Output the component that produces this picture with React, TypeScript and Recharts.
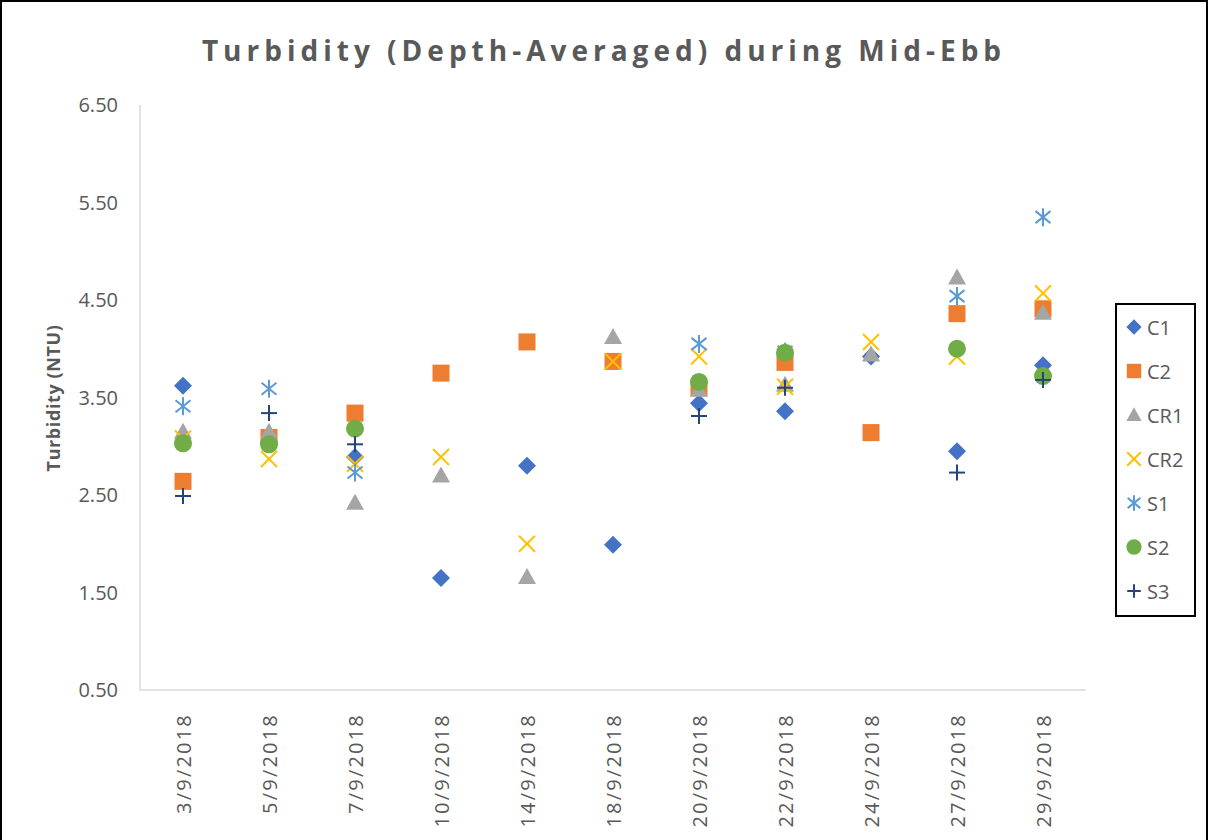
import { ComposedChart, Line, XAxis, YAxis } from "recharts";

const dates = [
  "3/9/2018",
  "5/9/2018",
  "7/9/2018",
  "10/9/2018",
  "14/9/2018",
  "18/9/2018",
  "20/9/2018",
  "22/9/2018",
  "24/9/2018",
  "27/9/2018",
  "29/9/2018",
];

const c1 = [3.62, 3.05, 2.89, 1.65, 2.8, 1.99, 3.44, 3.36, 3.92, 2.95, 3.83];
const c2 = [2.64, 3.09, 3.34, 3.75, 4.07, 3.87, 3.6, 3.86, 3.14, 4.36, 4.41];
const cr1 = [3.15, 3.15, 2.42, 2.7, 1.66, 4.12, 3.58, 3.63, 3.94, 4.73, 4.37];
const cr2 = [3.08, 2.87, 2.82, 2.89, 2.0, 3.87, 3.92, 3.61, 4.07, 3.92, 4.57];
const s1 = [3.41, 3.59, 2.73, null, null, null, 4.05, 3.97, null, 4.54, 5.35];
const s2 = [3.03, 3.02, 3.18, null, null, null, 3.66, 3.96, null, 4.0, 3.72];
const s3 = [2.49, 3.34, 3.02, null, null, null, 3.31, 3.6, null, 2.73, 3.68];

const yTicks = [0.5, 1.5, 2.5, 3.5, 4.5, 5.5, 6.5];

type Shape = "diamond" | "square" | "triangle" | "x" | "star" | "circle" | "plus";

const series: { key: string; color: string; shape: Shape }[] = [
  { key: "C1", color: "#4472C4", shape: "diamond" },
  { key: "C2", color: "#ED7D31", shape: "square" },
  { key: "CR1", color: "#A5A5A5", shape: "triangle" },
  { key: "CR2", color: "#FFC000", shape: "x" },
  { key: "S1", color: "#5B9BD5", shape: "star" },
  { key: "S2", color: "#70AD47", shape: "circle" },
  { key: "S3", color: "#264478", shape: "plus" },
];

const rows = dates.map((d, i) => ({
  date: d,
  C1: c1[i],
  C2: c2[i],
  CR1: cr1[i],
  CR2: cr2[i],
  S1: s1[i],
  S2: s2[i],
  S3: s3[i],
}));

const FONT = "'Open Sans', 'Liberation Sans', sans-serif";
const GREY = "#595959";

function marker(shape: Shape, cx: number, cy: number, color: string, s = 1) {
  switch (shape) {
    case "diamond":
      return <polygon points={`${cx},${cy - 9 * s} ${cx + 9 * s},${cy} ${cx},${cy + 9 * s} ${cx - 9 * s},${cy}`} fill={color} />;
    case "square":
      return <rect x={cx - 8.5 * s} y={cy - 8.5 * s} width={17 * s} height={17 * s} fill={color} />;
    case "triangle":
      return <polygon points={`${cx},${cy - 9 * s} ${cx + 9 * s},${cy + 7 * s} ${cx - 9 * s},${cy + 7 * s}`} fill={color} />;
    case "x":
      return (
        <g stroke={color} strokeWidth={2}>
          <line x1={cx - 8 * s} y1={cy - 8 * s} x2={cx + 8 * s} y2={cy + 8 * s} />
          <line x1={cx - 8 * s} y1={cy + 8 * s} x2={cx + 8 * s} y2={cy - 8 * s} />
        </g>
      );
    case "star":
      return (
        <g stroke={color} strokeWidth={2}>
          <line x1={cx} y1={cy - 9 * s} x2={cx} y2={cy + 9 * s} />
          <line x1={cx - 7.5 * s} y1={cy - 6 * s} x2={cx + 7.5 * s} y2={cy + 6 * s} />
          <line x1={cx - 7.5 * s} y1={cy + 6 * s} x2={cx + 7.5 * s} y2={cy - 6 * s} />
        </g>
      );
    case "circle":
      return <circle cx={cx} cy={cy} r={9 * s} fill={color} />;
    case "plus":
      return (
        <g stroke={color} strokeWidth={2}>
          <line x1={cx - 8 * s} y1={cy} x2={cx + 8 * s} y2={cy} />
          <line x1={cx} y1={cy - 8 * s} x2={cx} y2={cy + 8 * s} />
        </g>
      );
  }
}

function makeDot(shape: Shape, color: string, name: string) {
  return (props: any) => {
    const { cx, cy, index } = props;
    if (typeof cy !== "number" || isNaN(cy) || props.value == null) {
      return <g key={`${name}-${index}`} />;
    }
    return <g key={`${name}-${index}`}>{marker(shape, cx, cy, color)}</g>;
  };
}

const DateTick = (props: any) => {
  const { x, y, payload } = props;
  const ty = y + 15;
  return (
    <text
      x={x}
      y={ty}
      transform={`rotate(-90 ${x} ${ty})`}
      textAnchor="end"
      dominantBaseline="central"
      fill={GREY}
      fontSize={20}
      fontFamily={FONT}
      letterSpacing={2.2}
    >
      {payload.value}
    </text>
  );
};

function LegendBox() {
  return (
    <div
      style={{
        position: "absolute",
        left: 1115,
        top: 303,
        width: 77,
        height: 310,
        border: "2px solid #000",
        background: "#fff",
      }}
    >
      <svg width={77} height={310}>
        {series.map((s, i) => {
          const cy = 22 + i * 44;
          return (
            <g key={s.key}>
              {marker(s.shape, 17, cy, s.color, 0.85)}
              <text x={30} y={cy} dominantBaseline="central" fill={GREY} fontSize={20} fontFamily={FONT}>
                {s.key}
              </text>
            </g>
          );
        })}
      </svg>
    </div>
  );
}

export default function App() {
  return (
    <div style={{ position: "absolute", left: 0, top: 0, width: 1208, height: 840, background: "#fff", fontFamily: FONT }}>
      <div
        style={{
          position: "absolute",
          left: 0,
          top: 29,
          width: 1208,
          textAlign: "center",
          fontSize: 28,
          fontWeight: 700,
          color: GREY,
          letterSpacing: 5,
          lineHeight: "42px",
        }}
      >
        Turbidity (Depth-Averaged) during Mid-Ebb
      </div>
      <div
        style={{
          position: "absolute",
          left: 53,
          top: 398,
          transform: "translate(-50%, -50%) rotate(-90deg)",
          whiteSpace: "nowrap",
          fontSize: 18,
          fontWeight: 700,
          letterSpacing: 0.6,
          color: GREY,
        }}
      >
        Turbidity (NTU)
      </div>
      <ComposedChart width={1208} height={840} data={rows} margin={{ top: 105, right: 122, bottom: 0, left: 40 }}>
        <XAxis
          dataKey="date"
          interval={0}
          height={150}
          padding={{ left: 43, right: 43 }}
          tickLine={false}
          axisLine={{ stroke: "#d9d9d9", strokeWidth: 1.5 }}
          tick={<DateTick />}
        />
        <YAxis
          type="number"
          domain={[0.5, 6.5]}
          ticks={yTicks}
          width={100}
          tickLine={false}
          tickSize={0}
          tickMargin={22}
          axisLine={{ stroke: "#d9d9d9", strokeWidth: 1.5 }}
          tickFormatter={(v: number) => v.toFixed(2)}
          tick={{ fill: GREY, fontSize: 20, fontFamily: FONT }}
        />
        {series.map((s) => (
          <Line
            key={s.key}
            dataKey={s.key}
            stroke="none"
            isAnimationActive={false}
            activeDot={false}
            legendType="none"
            dot={makeDot(s.shape, s.color, s.key)}
          />
        ))}
      </ComposedChart>
      <LegendBox />
      <div
        style={{
          position: "absolute",
          left: 0,
          top: 0,
          width: 1204,
          height: 840,
          borderTop: "2px solid #000",
          borderLeft: "2px solid #000",
          borderRight: "2px solid #000",
          pointerEvents: "none",
        }}
      />
    </div>
  );
}
